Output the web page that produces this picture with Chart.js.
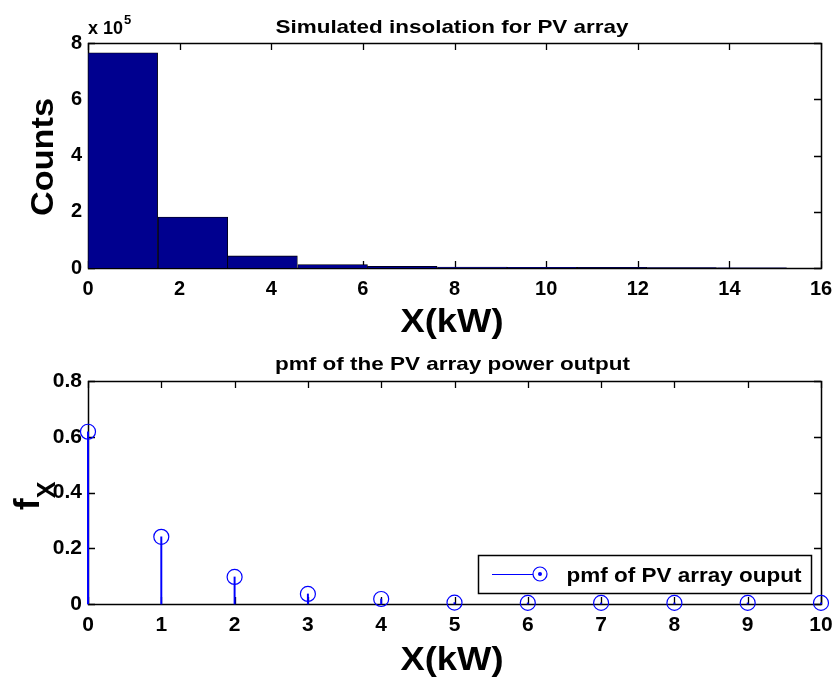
<!DOCTYPE html>
<html>
<head>
<meta charset="utf-8">
<script src="https://cdn.jsdelivr.net/npm/chart.js@4.4.1/dist/chart.umd.min.js"></script>
<style>
  html, body { margin: 0; padding: 0; background: #ffffff; }
  #wrap { position: relative; width: 836px; height: 681px; background: #ffffff; }
  #c1 { position: absolute; left: 0; top: 0; }
  #c2 { position: absolute; left: 0; top: 345px; }
</style>
</head>
<body>
<div id="wrap">
  <canvas id="c1" width="836" height="345"></canvas>
  <canvas id="c2" width="836" height="336"></canvas>
</div>
<script>
// ---------- DATA ----------
// Histogram: simulated insolation for PV array
const histBinCenters = [0.76, 2.29, 3.81, 5.34, 6.86, 8.39, 9.91, 11.44, 12.96, 14.49];
const histCounts     = [765000, 181000, 43000, 12000, 6000, 3500, 2500, 2000, 1500, 1000];
const histXTicks = [0, 2, 4, 6, 8, 10, 12, 14, 16];
const histYTicks = [0, 2, 4, 6, 8];          // x 10^5

// pmf of the PV array power output
const pmfX = [0, 1, 2, 3, 4, 5, 6, 7, 8, 9, 10];
const pmfY = [0.618, 0.241, 0.097, 0.036, 0.018, 0.005, 0.004, 0.004, 0.004, 0.004, 0.004];
const pmfXTicks = [0, 1, 2, 3, 4, 5, 6, 7, 8, 9, 10];
const pmfYTicks = [0, 0.2, 0.4, 0.6, 0.8];

const TITLE_TOP = 'Simulated insolation for PV array';
const TITLE_BOTTOM = 'pmf of the PV array power output';
const XLABEL = 'X(kW)';
const YLABEL_TOP = 'Counts';
const LEGEND_LABEL = 'pmf of PV array ouput';

// ---------- HELPERS ----------
const FAMILY = '"Liberation Sans", Arial, Helvetica, sans-serif';
function drawText(ctx, s, x, y, size, o) {
  o = o || {};
  ctx.save();
  ctx.font = 'bold ' + size + 'px ' + FAMILY;
  ctx.fillStyle = '#000';
  const w = ctx.measureText(s).width;
  const sx = o.width ? o.width / w : 1;
  ctx.translate(x, y);
  if (o.rot) ctx.rotate(o.rot);
  ctx.scale(sx, 1);
  ctx.textAlign = o.align || 'center';
  ctx.textBaseline = 'alphabetic';
  ctx.fillText(s, 0, 0);
  ctx.restore();
}

// MATLAB-like box with inward ticks on all four sides
const boxTicks = {
  id: 'boxTicks',
  beforeDatasetsDraw(chart) {
    const ctx = chart.ctx, a = chart.chartArea;
    const xs = chart.scales.x, ys = chart.scales.y;
    const L = 7;
    ctx.save();
    ctx.strokeStyle = '#000';
    ctx.lineWidth = 1.3;
    ctx.beginPath();
    xs.ticks.forEach(t => {
      const px = Math.round(xs.getPixelForValue(t.value)) + 0.5;
      ctx.moveTo(px, a.bottom); ctx.lineTo(px, a.bottom - L);
      ctx.moveTo(px, a.top); ctx.lineTo(px, a.top + L);
    });
    ys.ticks.forEach(t => {
      const py = Math.round(ys.getPixelForValue(t.value)) + 0.5;
      ctx.moveTo(a.left, py); ctx.lineTo(a.left + L, py);
      ctx.moveTo(a.right, py); ctx.lineTo(a.right - L, py);
    });
    ctx.stroke();
    ctx.lineWidth = 1.5;
    ctx.strokeRect(Math.round(a.left) + 0.5, Math.round(a.top) + 0.5,
                   Math.round(a.right - a.left), Math.round(a.bottom - a.top));
    ctx.restore();
  }
};

const topLabels = {
  id: 'topLabels',
  afterDraw(chart) {
    const ctx = chart.ctx;
    drawText(ctx, TITLE_TOP, 452, 33, 19, { width: 353 });
    drawText(ctx, 'x 10', 88, 34, 18, { align: 'left' });
    drawText(ctx, '5', 124, 24, 13, { align: 'left' });
    drawText(ctx, YLABEL_TOP, 53, 157, 32, { rot: -Math.PI / 2, width: 118 });
    drawText(ctx, XLABEL, 452, 332, 33, { width: 103 });
  }
};

const OFF = 345;
const bottomLabels = {
  id: 'bottomLabels',
  afterDraw(chart) {
    const ctx = chart.ctx;
    drawText(ctx, TITLE_BOTTOM, 452.5, 370 - OFF, 19, { width: 355 });
    drawText(ctx, XLABEL, 452, 670 - OFF, 33, { width: 103 });
    // y label: f with subscript X
    ctx.save();
    ctx.translate(39, 510 - OFF);
    ctx.rotate(-Math.PI / 2);
    ctx.fillStyle = '#000';
    ctx.textBaseline = 'alphabetic';
    ctx.textAlign = 'left';
    ctx.font = 'bold 35px ' + FAMILY;
    ctx.fillText('f', 0, 0);
    const fw = ctx.measureText('f').width;
    ctx.font = 'bold 25px ' + FAMILY;
    ctx.fillText('X', fw, 16);
    ctx.restore();
    // legend
    const bx = 478.5, by = 555.5 - OFF, bw = 333, bh = 38;
    ctx.save();
    ctx.fillStyle = '#fff';
    ctx.fillRect(bx, by, bw, bh);
    ctx.strokeStyle = '#000';
    ctx.lineWidth = 1.5;
    ctx.strokeRect(bx, by, bw, bh);
    const ly = 574 - OFF;
    ctx.strokeStyle = '#0000ff';
    ctx.lineWidth = 1;
    ctx.beginPath(); ctx.moveTo(492, ly + 0.5); ctx.lineTo(533, ly + 0.5); ctx.stroke();
    ctx.lineWidth = 1.2;
    ctx.beginPath(); ctx.arc(540, ly, 7, 0, Math.PI * 2); ctx.stroke();
    ctx.fillStyle = '#0000ff';
    ctx.beginPath(); ctx.arc(540, ly, 2, 0, Math.PI * 2); ctx.fill();
    ctx.restore();
    drawText(ctx, LEGEND_LABEL, 566.5, 582 - OFF, 20, { align: 'left', width: 235 });
  }
};

const tickFont = (size) => ({ family: FAMILY, size: size, weight: 'bold' });
const noPad = s => { s.paddingLeft = 0; s.paddingRight = 0; s.paddingTop = 0; s.paddingBottom = 0; };

// ---------- TOP CHART: histogram ----------
new Chart(document.getElementById('c1'), {
  type: 'bar',
  data: {
    datasets: [{
      data: histBinCenters.map((x, i) => ({ x: x, y: histCounts[i] })),
      backgroundColor: '#00008f',
      borderColor: '#000000',
      borderWidth: 0.8,
      barPercentage: 1.0,
      categoryPercentage: 1.0
    }]
  },
  options: {
    responsive: false,
    animation: false,
    events: [],
    layout: { padding: { left: 0, right: 15, top: 43, bottom: 0 } },
    plugins: { legend: { display: false }, tooltip: { enabled: false }, title: { display: false } },
    scales: {
      x: {
        type: 'linear', min: 0, max: 16, offset: false,
        afterBuildTicks: s => { s.ticks = histXTicks.map(v => ({ value: v })); },
        afterFit: s => { s.height = 345 - 268; noPad(s); },
        grid: { display: false, drawTicks: false, offset: false },
        border: { display: false },
        ticks: { font: tickFont(20), color: '#000', padding: 9, maxRotation: 0, autoSkip: false }
      },
      y: {
        type: 'linear', min: 0, max: 800000,
        afterBuildTicks: s => { s.ticks = histYTicks.map(v => ({ value: v * 1e5 })); },
        afterFit: s => { s.width = 88; noPad(s); },
        grid: { display: false, drawTicks: false },
        border: { display: false },
        ticks: { font: tickFont(20), color: '#000', padding: 6, callback: v => String(Math.round(v / 1e5)) }
      }
    }
  },
  plugins: [boxTicks, topLabels]
});

// ---------- BOTTOM CHART: stem plot ----------
new Chart(document.getElementById('c2'), {
  data: {
    datasets: [
      {
        type: 'scatter',
        data: pmfX.map((x, i) => ({ x: x, y: pmfY[i] })),
        showLine: false,
        pointStyle: 'circle',
        pointRadius: 7.5,
        pointBorderWidth: 1.2,
        pointBorderColor: '#0000ff',
        pointBackgroundColor: 'rgba(0,0,0,0)',
        clip: false,
        order: 0
      },
      {
        type: 'bar',
        data: pmfX.map((x, i) => ({ x: x, y: pmfY[i] })),
        backgroundColor: '#0000ff',
        borderWidth: 0,
        barThickness: 1.3,
        clip: false,
        order: 1
      }
    ]
  },
  options: {
    responsive: false,
    animation: false,
    events: [],
    layout: { padding: { left: 0, right: 15, top: 381 - OFF, bottom: 0 } },
    plugins: { legend: { display: false }, tooltip: { enabled: false }, title: { display: false } },
    scales: {
      x: {
        type: 'linear', min: 0, max: 10, offset: false,
        afterBuildTicks: s => { s.ticks = pmfXTicks.map(v => ({ value: v })); },
        afterFit: s => { s.height = 681 - 604; noPad(s); },
        grid: { display: false, drawTicks: false, offset: false },
        border: { display: false },
        ticks: { font: tickFont(21), color: '#000', padding: 9, maxRotation: 0, autoSkip: false }
      },
      y: {
        type: 'linear', min: 0, max: 0.8,
        afterBuildTicks: s => { s.ticks = pmfYTicks.map(v => ({ value: v })); },
        afterFit: s => { s.width = 88; noPad(s); },
        grid: { display: false, drawTicks: false },
        border: { display: false },
        ticks: { font: tickFont(21), color: '#000', padding: 6, callback: v => (v === 0 ? '0' : v.toFixed(1)) }
      }
    }
  },
  plugins: [boxTicks, bottomLabels]
});
</script>
</body>
</html>
